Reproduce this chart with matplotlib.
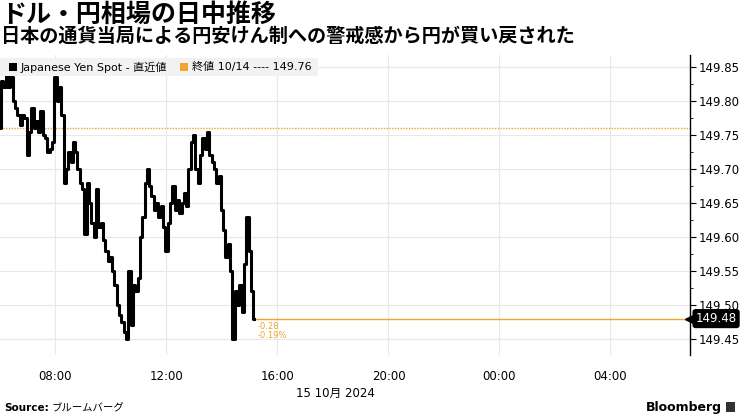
import pandas as pd
import matplotlib
matplotlib.use('Agg')
import matplotlib.pyplot as plt
import matplotlib.dates as mdates
import matplotlib.transforms as mtransforms
from matplotlib.patches import Rectangle

plt.rcParams['font.family'] = ['DejaVu Sans', 'Noto Sans CJK JP']

# USD/JPY spot, 5-minute steps from 06:00 on 15 Oct 2024
usdjpy = [
    149.76, 149.83, 149.82, 149.84, 149.82, 149.835, 149.80, 149.79, 149.78, 149.765,
    149.78, 149.775, 149.72, 149.755, 149.79, 149.76, 149.77, 149.755, 149.785, 149.75,
    149.745, 149.725, 149.73, 149.74, 149.835, 149.80, 149.82, 149.78, 149.68, 149.70,
    149.725, 149.71, 149.74, 149.725, 149.70, 149.68, 149.67, 149.605, 149.68, 149.65,
    149.62, 149.60, 149.67, 149.615, 149.62, 149.595, 149.58, 149.565, 149.57, 149.55,
    149.53, 149.50, 149.485, 149.475, 149.46, 149.45, 149.55, 149.47, 149.53, 149.52,
    149.54, 149.60, 149.63, 149.68, 149.70, 149.675, 149.66, 149.64, 149.65, 149.63,
    149.645, 149.615, 149.58, 149.62, 149.65, 149.675, 149.64, 149.655, 149.635, 149.65,
    149.665, 149.645, 149.70, 149.74, 149.75, 149.70, 149.68, 149.72, 149.745, 149.73,
    149.755, 149.72, 149.71, 149.70, 149.68, 149.69, 149.64, 149.61, 149.57, 149.59,
    149.55, 149.45, 149.52, 149.50, 149.53, 149.49, 149.56, 149.63, 149.58, 149.52,
    149.48,
]
times = pd.date_range('2024-10-15 06:00', periods=len(usdjpy), freq='5min')

prev_close = 149.76
last = 149.48
change = -0.28
change_pct = -0.19
yticks = [149.45, 149.50, 149.55, 149.60, 149.65, 149.70, 149.75, 149.80, 149.85]

W, H = 740, 416
fig = plt.figure(figsize=(W / 100, H / 100), dpi=100)
ax = fig.add_axes([0, 1 - 355 / H, 690 / W, 300 / H])

def fx(x):
    return x / W

def fy(y):
    return 1 - y / H

orange = '#f0a32f'
ax.plot(times, usdjpy, color='black', lw=2.2, drawstyle='steps-mid', zorder=3)
ax.axhline(prev_close, color=orange, lw=1.0, ls=(0, (1, 1)), zorder=2)
ax.plot([times[-1], pd.Timestamp('2024-10-16 07:00')], [last, last], color=orange, lw=1.0, zorder=2)

ax.set_xlim(pd.Timestamp('2024-10-15 06:00'), pd.Timestamp('2024-10-16 06:52'))
ax.set_ylim(149.4265, 149.8676)

ax.xaxis.set_major_locator(mdates.HourLocator(byhour=[0, 4, 8, 12, 16, 20]))
ax.xaxis.set_major_formatter(mdates.DateFormatter('%H:%M'))
ax.yaxis.tick_right()
ax.set_yticks(yticks)
ax.set_yticks([v + 0.025 for v in yticks[:-1]], minor=True)
ax.yaxis.set_major_formatter(plt.FuncFormatter(lambda v, p: f'{v:.2f}'))
ax.tick_params(axis='y', which='major', length=4, width=0.8, pad=2, labelsize=8.5, colors='black')
ax.tick_params(axis='y', which='minor', length=2.5, width=0.6)
ax.tick_params(axis='x', length=0, pad=11, labelsize=8.5)
ax.grid(True, color='#e8e8e8', lw=0.8)
ax.set_axisbelow(True)
for s in ['left', 'top', 'bottom']:
    ax.spines[s].set_visible(False)
ax.spines['right'].set_color('black')
ax.spines['right'].set_linewidth(1.0)

# last value tag on the axis
tr = mtransforms.blended_transform_factory(ax.transAxes, ax.transData)
ax.plot([1.0], [last], marker='<', ms=7, color='black', transform=tr, clip_on=False, zorder=5)
ax.text(1.008, last, f'{last:.2f}', transform=tr, color='white', fontsize=8.5,
        va='center', ha='left', zorder=6,
        bbox=dict(boxstyle='round,pad=0.2,rounding_size=0.2', fc='black', ec='black'))

# change annotation
ax.text(times[-1] + pd.Timedelta(minutes=7), 149.468, f'{change:.2f}', color=orange,
        fontsize=6, va='center', ha='left')
ax.text(times[-1] + pd.Timedelta(minutes=7), 149.455, f'{change_pct:.2f}%', color=orange,
        fontsize=6, va='center', ha='left')

# legend strip
fig.patches.append(Rectangle((0, fy(76)), fx(318), fy(58) - fy(76), transform=fig.transFigure,
                             fc='#f2f2f2', ec='none', zorder=4))
fig.patches.append(Rectangle((fx(9), fy(71)), fx(8), fy(63) - fy(71), transform=fig.transFigure,
                             fc='black', ec='none', zorder=5))
fig.patches.append(Rectangle((fx(180), fy(71)), fx(8), fy(63) - fy(71), transform=fig.transFigure,
                             fc=orange, ec='none', zorder=5))
fig.text(fx(21), fy(67), 'Japanese Yen Spot - 直近値', fontsize=8, va='center', ha='left', zorder=6)
fig.text(fx(192), fy(67), f'終値 10/14 ---- {prev_close:.2f}', fontsize=8, va='center', ha='left', zorder=6)

# titles
fig.text(fx(1), fy(15), 'ドル・円相場の日中推移', fontsize=18, fontweight='bold',
         family=['Noto Sans CJK JP'], va='center', ha='left')
fig.text(fx(1), fy(36), '日本の通貨当局による円安けん制への警戒感から円が買い戻された', fontsize=13.8,
         fontweight='bold', family=['Noto Sans CJK JP'], va='center', ha='left')

fig.text(fx(335), fy(393), '15 10月 2024', fontsize=8.5, va='center', ha='center')

fig.text(fx(4), fy(408), 'Source:', fontsize=7.5, fontweight='bold', va='center', ha='left')
fig.text(fx(52), fy(408), 'ブルームバーグ', fontsize=7.5, va='center', ha='left',
         family=['Noto Sans CJK JP'])
fig.text(fx(722), fy(407), 'Bloomberg', fontsize=9, fontweight='bold', va='center', ha='right')
fig.patches.append(Rectangle((fx(726), fy(412)), fx(9), fy(402) - fy(412), transform=fig.transFigure,
                             fc='#333333', ec='none'))

fig.savefig('out.png', dpi=100)
